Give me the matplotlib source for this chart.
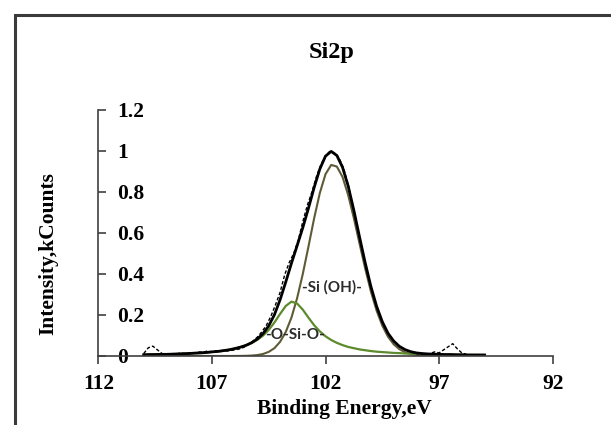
import matplotlib
matplotlib.use('Agg')
import matplotlib.pyplot as plt
from matplotlib.patches import Rectangle

# energia de enlace (eV) para las curvas ajustadas
energia = [110.0, 109.75, 109.5, 109.25, 109.0, 108.75, 108.5, 108.25, 108.0, 107.75,
           107.5, 107.25, 107.0, 106.75, 106.5, 106.25, 106.0, 105.75, 105.5, 105.25,
           105.0, 104.75, 104.5, 104.25, 104.0, 103.75, 103.5, 103.25, 103.0, 102.75,
           102.5, 102.25, 102.0, 101.75, 101.5, 101.25, 101.0, 100.75, 100.5, 100.25,
           100.0, 99.75, 99.5, 99.25, 99.0, 98.75, 98.5, 98.25, 98.0, 97.75,
           97.5, 97.25, 97.0, 96.75, 96.5, 96.25, 96.0, 95.75, 95.5, 95.25, 95.0]

# componente -Si (OH)-
si_oh = [0, 0, 0, 0, 0, 0, 0, 0, 0, 0,
         0, 0, 0, 0, 0, 0, 0.0001, 0.0003, 0.0008, 0.002,
         0.0045, 0.0098, 0.020, 0.038, 0.069, 0.117, 0.187, 0.282, 0.400, 0.534,
         0.672, 0.795, 0.887, 0.932, 0.924, 0.873, 0.784, 0.671, 0.547, 0.425,
         0.314, 0.221, 0.148, 0.094, 0.057, 0.033, 0.018, 0.0096, 0.0048, 0.0023,
         0.001, 0.0004, 0.0002, 0, 0, 0, 0, 0, 0, 0, 0]

# componente -O-Si-O-
o_si_o = [0.0061, 0.0065, 0.0071, 0.0077, 0.0084, 0.0091, 0.010, 0.011, 0.0123, 0.0137,
          0.0153, 0.0173, 0.0196, 0.0224, 0.0259, 0.0302, 0.0356, 0.0424, 0.0513, 0.063,
          0.0786, 0.0995, 0.127, 0.163, 0.205, 0.244, 0.265, 0.256, 0.226, 0.187,
          0.150, 0.120, 0.096, 0.078, 0.064, 0.053, 0.044, 0.038, 0.032, 0.028,
          0.024, 0.021, 0.019, 0.017, 0.015, 0.014, 0.012, 0.011, 0.010, 0.0095,
          0.0087, 0.0081, 0.0075, 0.007, 0.0065, 0.0061, 0.0057, 0.0053, 0.005, 0.0047, 0.0045]

# envolvente (ajuste total)
envolvente = [0.006, 0.007, 0.007, 0.008, 0.008, 0.009, 0.010, 0.011, 0.012, 0.014,
              0.015, 0.017, 0.020, 0.022, 0.026, 0.030, 0.036, 0.043, 0.052, 0.065,
              0.083, 0.109, 0.147, 0.201, 0.274, 0.361, 0.452, 0.538, 0.626, 0.721,
              0.822, 0.912, 0.975, 0.998, 0.978, 0.920, 0.828, 0.709, 0.579, 0.453,
              0.338, 0.242, 0.167, 0.111, 0.073, 0.047, 0.031, 0.021, 0.015, 0.012,
              0.010, 0.009, 0.008, 0.007, 0.007, 0.006, 0.006, 0.005, 0.005, 0.005, 0.005]

# datos experimentales (linea punteada)
energia_exp = [110.0, 109.8, 109.6, 109.4, 109.2, 109.0, 108.8, 108.6, 108.4, 108.2,
               108.0, 107.8, 107.6, 107.4, 107.2, 107.0, 106.8, 106.6, 106.4, 106.2,
               106.0, 105.8, 105.6, 105.4, 105.2, 105.0, 104.8, 104.6, 104.4, 104.2,
               104.0, 103.8, 103.6, 103.4, 103.2, 103.0, 102.8, 102.6, 102.4, 102.2,
               102.0, 101.8, 101.6, 101.4, 101.2, 101.0, 100.8, 100.6, 100.4, 100.2,
               100.0, 99.8, 99.6, 99.4, 99.2, 99.0, 98.8, 98.6, 98.4, 98.2,
               98.0, 97.8, 97.6, 97.4, 97.2, 97.0, 96.8, 96.6, 96.4, 96.2, 96.0, 95.8]
intensidad_exp = [0.012, 0.040, 0.048, 0.030, 0.012, 0.006, 0.010, 0.008, 0.014, 0.012,
                  0.016, 0.013, 0.020, 0.018, 0.024, 0.020, 0.026, 0.022, 0.024, 0.026,
                  0.030, 0.034, 0.042, 0.055, 0.072, 0.092, 0.118, 0.150, 0.195, 0.250,
                  0.310, 0.395, 0.455, 0.500, 0.565, 0.655, 0.735, 0.800, 0.875, 0.935,
                  0.975, 1.000, 0.990, 0.965, 0.915, 0.835, 0.735, 0.630, 0.525, 0.420,
                  0.335, 0.255, 0.195, 0.140, 0.100, 0.072, 0.050, 0.036, 0.026, 0.018,
                  0.012, 0.008, 0.006, 0.012, 0.020, 0.015, 0.030, 0.045, 0.060, 0.035, 0.015, 0.008]

x_ticks = [112, 107, 102, 97, 92]
y_ticks = [0, 0.2, 0.4, 0.6, 0.8, 1.0, 1.2]
y_tick_labels = ['0', '0.2', '0.4', '0.6', '0.8', '1', '1.2']

serif = 'Liberation Serif'
eje_color = '#404040'

fig = plt.figure(figsize=(6.11, 4.25), dpi=100)
ax = fig.add_axes([0.1609, 0.1624, 0.7437, 0.5788])

ax.plot(energia, si_oh, color='#5f5a36', lw=1.5)
ax.plot(energia, o_si_o, color='#5c8a2c', lw=1.6)
ax.plot(energia, envolvente, color='black', lw=2.0)
ax.plot(energia_exp, intensidad_exp, color='black', lw=1.0, ls=(0, (2.5, 1.5)))

ax.text(103.05, 0.335, '-Si (OH)-', family='Lato', fontsize=11, fontweight='bold',
        color='#2b2b2b', ha='left', va='center')
ax.text(104.66, 0.10, '-O-Si-O-', family='Lato', fontsize=11, fontweight='bold',
        color='#2b2b2b', ha='left', va='center')

ax.set_xlim(112, 92)
ax.set_ylim(0, 1.2)

# el eje y queda en x=112 con las etiquetas hacia adentro (como en Excel)
ax.spines['left'].set_visible(False)
ax.spines['top'].set_visible(False)
ax.spines['right'].set_position(('data', 112))
ax.spines['right'].set_color(eje_color)
ax.spines['right'].set_linewidth(1.2)
ax.spines['bottom'].set_color(eje_color)
ax.spines['bottom'].set_linewidth(1.2)
ax.yaxis.tick_right()

ax.set_xticks(x_ticks)
ax.set_xticklabels([str(t) for t in x_ticks])
ax.set_yticks(y_ticks)
ax.set_yticklabels(y_tick_labels)
ax.tick_params(axis='x', direction='out', length=6, width=1.2, color=eje_color, pad=7)
ax.tick_params(axis='y', direction='out', length=5.5, width=1.2, color=eje_color, pad=8)
for lab in ax.get_xticklabels() + ax.get_yticklabels():
    lab.set_fontfamily(serif)
    lab.set_fontweight('bold')
    lab.set_fontsize(15.5)
for lab in ax.get_yticklabels():
    lab.set_horizontalalignment('left')

ax.set_xlabel('Binding Energy,eV', family=serif, fontweight='bold', fontsize=15.5)
ax.xaxis.set_label_coords(0.541, -0.175)
ax.set_ylabel('Intensity,kCounts', family=serif, fontweight='bold', fontsize=15.5)
ax.yaxis.set_label_position('left')
ax.yaxis.set_label_coords(-0.089, 0.415)

fig.text(0.5434, 0.8753, 'Si2p', family=serif, fontweight='bold', fontsize=17.5,
         ha='center', va='center')

# marco exterior (cortado a la derecha y abajo)
marco = Rectangle((14.5 / 611, -0.1), 1.2, 1 - 14.5 / 425 + 0.1, transform=fig.transFigure,
                  fill=False, lw=2.2, edgecolor='#3a3a3a', clip_on=False)
fig.patches.append(marco)

fig.savefig('out.png', dpi=100)
